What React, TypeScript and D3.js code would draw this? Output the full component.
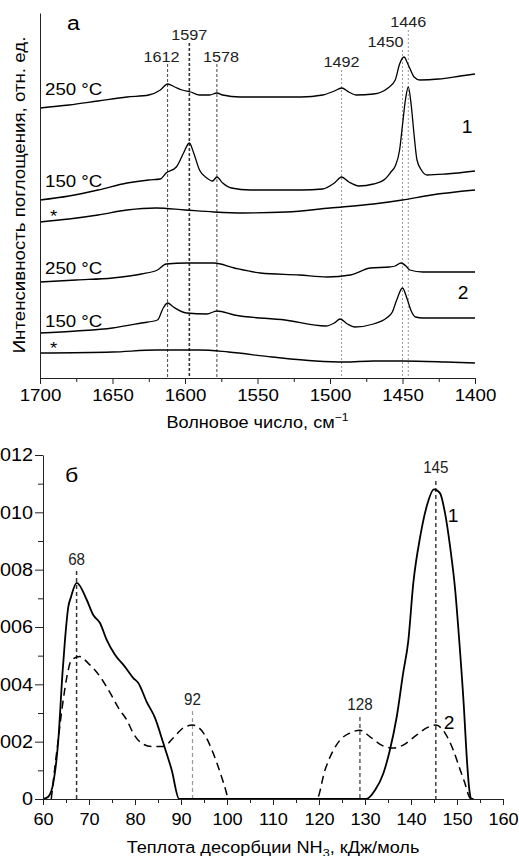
import React, { useRef, useEffect } from "react";
import * as d3 from "d3";

// size of the picture
const W = 519;
const H = 856;
const FONT = "'Liberation Sans', Arial, Helvetica, sans-serif";
const SX = 1.1; // the original lettering is a bit wide

// ---------- panel а : IR spectra (wavenumber, absorbance a.u.) ----------
const irTicks = [1700, 1650, 1600, 1550, 1500, 1450, 1400];
const irMinorTicks = [1675, 1625, 1575, 1525, 1475, 1425];

const spec1_250: [number, number][] = [
  [1700, 2.70], [1680, 2.73], [1660, 2.77], [1640, 2.81], [1625, 2.83], [1617, 2.88],
  [1612, 2.94], [1607, 2.91], [1602, 2.88], [1596, 2.86], [1590, 2.83], [1583, 2.83],
  [1578, 2.85], [1574, 2.83], [1562, 2.81], [1540, 2.81], [1520, 2.81], [1505, 2.83],
  [1497, 2.87], [1492, 2.90], [1487, 2.86], [1482, 2.83], [1470, 2.84], [1460, 2.90],
  [1455, 2.98], [1452, 3.14], [1449, 3.21], [1446, 3.13], [1442, 3.01], [1438, 2.98],
  [1425, 2.99], [1410, 3.02], [1400, 3.04],
];
const spec1_150: [number, number][] = [
  [1700, 1.78], [1680, 1.82], [1660, 1.88], [1640, 1.95], [1625, 1.98], [1617, 1.99],
  [1613, 2.05], [1606, 2.11], [1601, 2.25], [1597, 2.35], [1594, 2.25], [1590, 2.08],
  [1585, 2.00], [1581, 1.97], [1578, 2.01], [1574, 1.95], [1568, 1.90], [1555, 1.88],
  [1520, 1.88], [1505, 1.89], [1497, 1.95], [1492, 2.01], [1487, 1.96], [1480, 1.92],
  [1470, 1.94], [1462, 1.99], [1458, 2.06], [1455, 2.12], [1452, 2.28], [1450, 2.53],
  [1448, 2.78], [1446, 2.91], [1444, 2.73], [1442, 2.43], [1440, 2.18], [1437, 2.08],
  [1433, 2.03], [1420, 2.04], [1400, 2.07],
];
const spec1_ref: [number, number][] = [
  [1700, 1.56], [1680, 1.59], [1660, 1.63], [1640, 1.68], [1620, 1.70], [1600, 1.68],
  [1580, 1.66], [1560, 1.65], [1530, 1.66], [1500, 1.70], [1470, 1.74], [1450, 1.78],
  [1430, 1.83], [1400, 1.88],
];
const spec2_250: [number, number][] = [
  [1700, 0.96], [1675, 0.98], [1650, 1.00], [1630, 1.04], [1619, 1.08], [1613, 1.14],
  [1599, 1.15], [1580, 1.15], [1566, 1.10], [1548, 1.05], [1521, 1.03], [1502, 1.01],
  [1486, 1.03], [1472, 1.10], [1459, 1.11], [1455, 1.12], [1451, 1.15], [1447, 1.11],
  [1445, 1.08], [1436, 1.06], [1400, 1.06],
];
const spec2_150: [number, number][] = [
  [1700, 0.45], [1675, 0.47], [1650, 0.50], [1630, 0.55], [1619, 0.58], [1615, 0.70],
  [1612, 0.75], [1608, 0.71], [1599, 0.65], [1585, 0.64], [1578, 0.67], [1566, 0.63],
  [1531, 0.58], [1503, 0.52], [1497, 0.55], [1493, 0.59], [1488, 0.54], [1483, 0.51],
  [1470, 0.54], [1461, 0.60], [1457, 0.66], [1454, 0.78], [1450, 0.90], [1447, 0.80],
  [1444, 0.67], [1441, 0.61], [1436, 0.60], [1400, 0.60],
];
const spec2_ref: [number, number][] = [
  [1700, 0.25], [1650, 0.26], [1620, 0.28], [1590, 0.28], [1570, 0.26], [1540, 0.21],
  [1510, 0.17], [1490, 0.16], [1470, 0.17], [1450, 0.17], [1420, 0.16], [1400, 0.15],
];
const spectra = [spec1_250, spec1_150, spec1_ref, spec2_250, spec2_150, spec2_ref];
const spectraNames = ["250 °C", "150 °C", "*", "250 °C", "150 °C", "*"];

const irPeaks = [1612, 1597, 1578, 1492, 1450, 1446];
const irPeakNames = ["1612", "1597", "1578", "1492", "1450", "1446"];

// ---------- panel б : NH3 desorption heat distribution ----------
const heatTicks = [60, 70, 80, 90, 100, 110, 120, 130, 140, 150, 160];
const heatMinorTicks = [65, 75, 85, 95, 105, 115, 125, 135, 145, 155];
const densTicks = [0, 0.002, 0.004, 0.006, 0.008, 0.010, 0.012];
const densMinorTicks = [0.001, 0.003, 0.005, 0.007, 0.009, 0.011];

const tpd1: [number, number][] = [
  [60, 0], [61.15, 0.00008], [62.24, 0.00056], [63.33, 0.00206], [64.24, 0.0044],
  [64.78, 0.00555], [65.5, 0.0067], [66.09, 0.00705], [67.33, 0.00754], [69.5, 0.00695],
  [70.93, 0.00642], [72.39, 0.00614], [73.85, 0.00555], [75.65, 0.00503], [77.83, 0.00461],
  [79.63, 0.00422], [80.72, 0.00405], [82.54, 0.00339], [84.35, 0.00283], [86.15, 0.00195],
  [87.98, 0.00101], [89.6, 0], [130.3, 0], [132.2, 0.00031], [134.0, 0.0009],
  [135.4, 0.0017], [136.9, 0.00287], [138.3, 0.0044], [139.4, 0.0055], [140.5, 0.00753],
  [142.0, 0.00915], [143.4, 0.0102], [145.0, 0.0108], [146.3, 0.01067], [147.4, 0.00997],
  [148.5, 0.0088], [149.6, 0.0073], [150.5, 0.0055], [151.5, 0.0032], [152.1, 0.0015],
  [152.7, 0.0003], [153.2, 0], [153.6, 0],
];
const tpd2: [number, number][] = [
  [61.8, 0], [62.6, 0.00113], [63.3, 0.00206], [64.4, 0.00346], [65.2, 0.00427],
  [66.2, 0.00485], [68.0, 0.00497], [69.8, 0.00474], [72.4, 0.00427], [74.6, 0.0037],
  [76.7, 0.0031], [78.2, 0.00276], [79.6, 0.0023], [81.4, 0.00195], [83.6, 0.00183],
  [86.2, 0.00183], [88.3, 0.00213], [90.5, 0.00248], [92.5, 0.00258], [94.9, 0.0023],
  [97.0, 0.0016], [98.8, 0.00078], [99.9, 0.0002], [100.2, 0], [119.5, 0],
  [121.3, 0.00101], [122.8, 0.0016], [124.6, 0.00206], [126.7, 0.0023], [128.9, 0.0024],
  [131.1, 0.00217], [133.6, 0.00188], [136.1, 0.00178], [138.3, 0.00188], [141.2, 0.00223],
  [143.4, 0.00248], [145.4, 0.00258], [147.4, 0.0023], [149.2, 0.0017], [150.7, 0.00101],
  [151.7, 0.00056], [152.6, 0.0001], [153.0, 0],
];
const tpdPeaks = [67.3, 92.5, 128.9, 145.4];
const tpdPeakNames = ["68", "92", "128", "145"];

export default function App() {
  const svgRef = useRef<SVGSVGElement>(null);

  useEffect(() => {
    const svg = d3.select(svgRef.current);
    svg.selectAll("*").remove();
    svg.attr("font-family", FONT);

    // helper for the stretched lettering
    function label(g: any, x: number, y: number, s: string, size: number, anchor = "start", sx = SX, fill = "#000") {
      return g.append("text")
        .attr("transform", `translate(${x},${y}) scale(${sx},1)`)
        .attr("text-anchor", anchor)
        .attr("font-size", size)
        .attr("fill", fill)
        .text(s);
    }

    // ================= panel а =================
    const x = d3.scaleLinear().domain([1700, 1400]).range([40, 475]);
    const y = d3.scaleLinear().domain([0, 3.65]).range([378, 13]);
    const gA = svg.append("g");

    // dashed peak markers
    const peakTop = [64, 43, 64, 70, 50, 30];
    const peakLabY = [61.5, 40, 61.5, 67, 47, 27];
    const peakLabDx = [-6, 0, 4, 0, 0, 0];
    const peakAnchor = ["middle", "middle", "middle", "middle", "end", "middle"];
    const peakStroke = ["#444", "#333", "#444", "#999", "#999", "#999"];
    const peakWidth = [1, 1.6, 1, 1, 1, 1];
    const peakDash = ["3,2", "3,2", "3,2", "2,2", "2,2", "2,2"];
    irPeaks.forEach((p, i) => {
      gA.append("line")
        .attr("x1", x(p)).attr("x2", x(p))
        .attr("y1", peakTop[i]).attr("y2", y(0))
        .attr("stroke", peakStroke[i])
        .attr("stroke-width", peakWidth[i])
        .attr("stroke-dasharray", peakDash[i]);
      label(gA, x(p) + peakLabDx[i] + (peakAnchor[i] === "end" ? 1 : 0), peakLabY[i], irPeakNames[i], 15, peakAnchor[i], 1.08, "#222");
    });

    const line = d3.line<[number, number]>()
      .x(d => x(d[0]))
      .y(d => y(d[1]))
      .curve(d3.curveMonotoneX);
    spectra.forEach(s => {
      gA.append("path")
        .attr("d", line(s))
        .attr("fill", "none")
        .attr("stroke", "#000")
        .attr("stroke-width", 1.3);
    });

    // curve names
    const nameY = [95, 187, 221.5, 274, 327, 354];
    const nameX = [45, 45, 50, 45, 45, 50];
    spectraNames.forEach((n, i) => {
      label(gA, nameX[i], nameY[i], n, 17);
    });
    label(gA, 467, 133, "1", 17.5, "middle");
    label(gA, 463, 299, "2", 17.5, "middle");
    label(gA, 67, 30, "а", 21);

    // axes
    const axA = gA.append("g").attr("transform", `translate(0,${y(0)})`)
      .call(d3.axisBottom(x).tickValues(irTicks).tickSize(6).tickSizeOuter(0).tickPadding(5).tickFormat(d3.format("d") as any));
    axA.selectAll("text")
      .attr("font-size", 17)
      .attr("font-family", FONT)
      .attr("fill", "#000")
      .attr("transform", `scale(${SX},1)`);
    gA.append("g").attr("transform", `translate(0,${y(0)})`)
      .call(d3.axisBottom(x).tickValues(irMinorTicks).tickSize(4).tickFormat(() => ""))
      .select(".domain").remove();
    gA.append("g").attr("transform", `translate(${x(1700)},0)`)
      .call(d3.axisLeft(y).tickValues([]).tickSizeOuter(0));
    gA.selectAll(".domain, .tick line").attr("stroke", "#222");

    const tA = gA.append("text")
      .attr("transform", `translate(257.5,428) scale(${SX},1)`)
      .attr("text-anchor", "middle")
      .attr("font-size", 16.5);
    tA.append("tspan").text("Волновое число, см");
    tA.append("tspan").attr("font-size", 11).attr("dy", -7).text("−1");

    gA.append("text")
      .attr("transform", `translate(25,195) rotate(-90) scale(${SX},1)`)
      .attr("text-anchor", "middle")
      .attr("font-size", 17)
      .text("Интенсивность поглощения, отн. ед.");

    // ================= panel б =================
    const x2 = d3.scaleLinear().domain([60, 160]).range([43, 503]);
    const y2 = d3.scaleLinear().domain([0, 0.012]).range([799, 455]);
    const gB = svg.append("g");

    const markTop = [568, 708, 714, 478];
    const markLabY = [565, 705, 710, 473];
    const markStroke = ["#333", "#999", "#444", "#222"];
    const markWidth = [1.5, 1.2, 1.3, 1.3];
    tpdPeaks.forEach((p, i) => {
      gB.append("line")
        .attr("x1", x2(p)).attr("x2", x2(p))
        .attr("y1", markTop[i] + 3).attr("y2", y2(0))
        .attr("stroke", markStroke[i])
        .attr("stroke-width", markWidth[i])
        .attr("stroke-dasharray", "4,3");
      label(gB, x2(p), markLabY[i], tpdPeakNames[i], 16, "middle", 0.95, "#222");
    });

    const line2 = d3.line<[number, number]>()
      .x(d => x2(d[0]))
      .y(d => y2(d[1]))
      .curve(d3.curveMonotoneX);
    gB.append("path")
      .attr("d", line2(tpd2))
      .attr("fill", "none")
      .attr("stroke", "#000")
      .attr("stroke-width", 1.5)
      .attr("stroke-dasharray", "8,5");
    gB.append("path")
      .attr("d", line2(tpd1))
      .attr("fill", "none")
      .attr("stroke", "#000")
      .attr("stroke-width", 1.8);

    label(gB, 453, 522, "1", 17.5, "middle");
    label(gB, 449, 729, "2", 17.5, "middle");
    label(gB, 65, 482, "б", 21);

    const fmt = (d: number) => d === 0 ? "0" : d3.format(".3f")(d).replace(".", ",");
    const axX = gB.append("g").attr("transform", `translate(0,${y2(0)})`)
      .call(d3.axisBottom(x2).tickValues(heatTicks).tickSize(6).tickSizeOuter(0).tickPadding(8).tickFormat(d3.format("d") as any));
    axX.selectAll("text")
      .attr("font-size", 16.5)
      .attr("font-family", FONT)
      .attr("fill", "#000")
      .attr("transform", `scale(${SX},1)`);
    gB.append("g").attr("transform", `translate(0,${y2(0)})`)
      .call(d3.axisBottom(x2).tickValues(heatMinorTicks).tickSize(4).tickFormat(() => ""))
      .select(".domain").remove();
    const axY = gB.append("g").attr("transform", `translate(${x2(60)},0)`)
      .call(d3.axisLeft(y2).tickValues(densTicks).tickSize(8).tickSizeOuter(0).tickPadding(2).tickFormat(fmt as any));
    axY.selectAll("text")
      .attr("font-size", 18)
      .attr("font-family", FONT)
      .attr("fill", "#000")
      .attr("x", -10 / SX)
      .attr("transform", `scale(${SX},1)`);
    gB.append("g").attr("transform", `translate(${x2(60)},0)`)
      .call(d3.axisLeft(y2).tickValues(densMinorTicks).tickSize(5).tickFormat(() => ""))
      .select(".domain").remove();
    gB.selectAll(".domain, .tick line").attr("stroke", "#222");

    const tB = gB.append("text")
      .attr("transform", `translate(273,852.5) scale(${SX},1)`)
      .attr("text-anchor", "middle")
      .attr("font-size", 16.5);
    tB.append("tspan").text("Теплота десорбции NH");
    tB.append("tspan").attr("font-size", 11.5).attr("dy", 4).text("3");
    tB.append("tspan").attr("dy", -4).text(", кДж/моль");
  }, []);

  return (
    <svg
      ref={svgRef}
      width={W}
      height={H}
      style={{ position: "absolute", left: 0, top: 0, background: "#fff" }}
    />
  );
}
